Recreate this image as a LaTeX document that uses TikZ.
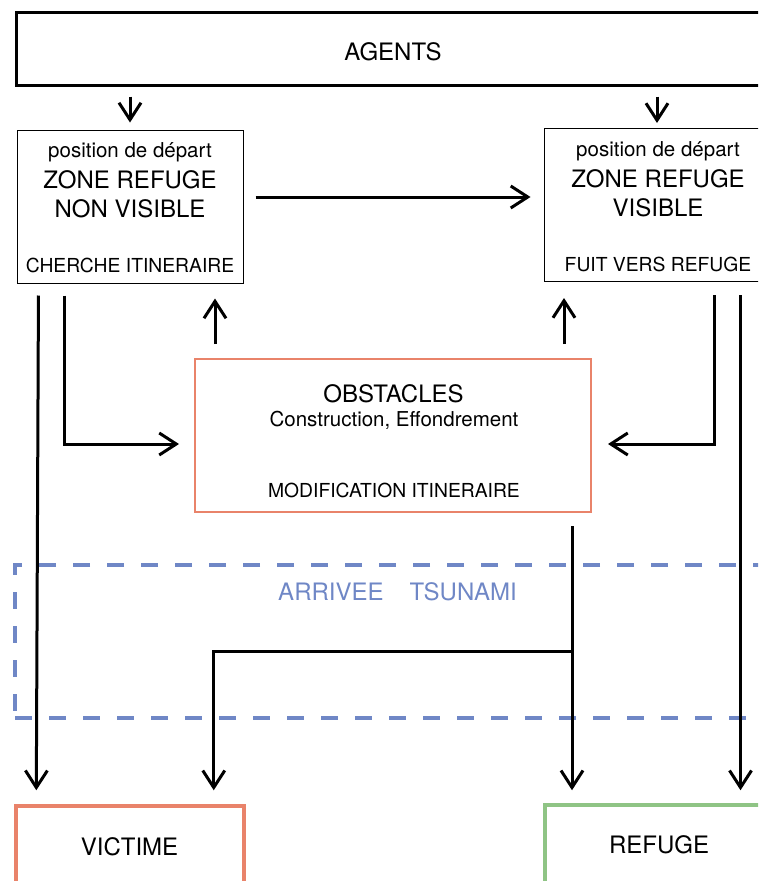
\documentclass[tikz,border=0pt]{standalone}
\usepackage{fontspec}
\setmainfont{TeX Gyre Heros}
\usetikzlibrary{arrows.meta,positioning}
\definecolor{saumon}{HTML}{E9836A}
\definecolor{vert}{HTML}{8FC485}
\definecolor{bleu}{HTML}{6F87C6}

\begin{document}
\begin{tikzpicture}[x=1pt,y=-1pt]
\tikzstyle{every node}+=[inner sep=0pt]
\tikzstyle{etat}=[draw,rectangle,line width=1pt,minimum width=226pt,minimum height=153pt]
\tikzstyle{issue}=[draw,rectangle,line width=3.5pt,minimum width=228pt,minimum height=153pt]
\tikzstyle{titre}=[anchor=base,font=\fontsize{24}{28}\selectfont]
\tikzstyle{depart}=[anchor=base,font=\fontsize{20.5}{24}\selectfont]
\tikzstyle{action}=[anchor=base,font=\fontsize{19.3}{23}\selectfont]
\tikzstyle{fleche}=[line width=3pt,-{Straight Barb[length=17pt,width=22pt]}]
\useasboundingbox (0,0) rectangle (758,881);
\clip (0,0) rectangle (758,881);
\node [draw,rectangle,line width=3pt,minimum width=754pt,minimum height=73pt] (agents) at (393,48.5) {};
\node [titre] (agentstxt) at (393,60) {AGENTS};
\node [etat] (zvn) at (130,206.5) {};
\node [depart] (zvndep) at (130,157) {position de départ};
\node [titre] (zvnzone) at (130,188) {ZONE REFUGE};
\node [titre] (zvnvis) at (130,217) {NON VISIBLE};
\node [action] (zvnact) at (130,272) {CHERCHE ITINERAIRE};
\node [etat] (zv) at (657,205) {};
\node [depart] (zvdep) at (658,156) {position de départ};
\node [titre] (zvzone) at (658,187) {ZONE REFUGE};
\node [titre] (zvvis) at (658,216) {VISIBLE};
\node [action] (zvact) at (658,271) {FUIT VERS REFUGE};
\node [draw=saumon,rectangle,line width=2pt,minimum width=396pt,minimum height=153pt] (obs) at (393,435.5) {};
\node [titre] (obstxt) at (393.5,402) {OBSTACLES};
\node [depart] (obscause) at (394,426) {Construction, Effondrement};
\node [action] (obsact) at (394,497) {MODIFICATION ITINERAIRE};
\node [draw=bleu,rectangle,line width=3.5pt,dash pattern=on 17pt off 17pt,minimum width=760pt,minimum height=153pt] (tsunami) at (395,641.5) {};
\node [titre,text=bleu] (tsunamitxt) at (397.5,600) {ARRIVEE\hspace{26pt}TSUNAMI};
\node [issue,draw=saumon] (vic) at (130,882.5) {};
\node [titre] (victxt) at (129.5,855) {VICTIME};
\node [issue,draw=vert] (ref) at (659,881.5) {};
\node [titre] (reftxt) at (659,853) {REFUGE};
\coordinate (bif) at (572,651);
\draw [fleche,shorten <=10pt,shorten >=7pt] (agents.south -| zvn.north) -- (zvn.north);
\draw [fleche,shorten <=10pt,shorten >=5pt] (agents.south -| zv.north) -- (zv.north);
\draw [fleche,shorten <=12pt,shorten >=13pt] ([yshift=9.5pt]zvn.east) -- ([yshift=9.5pt]zvn.east -| zv.west);
\draw [fleche,shorten <=14pt,shorten >=15pt] ([xshift=21pt]obs.north west) -- ([xshift=21pt]obs.north west |- zvn.south);
\draw [fleche,shorten <=14pt,shorten >=16pt] ([xshift=-28pt]obs.north east) -- ([xshift=-28pt]obs.north east |- zv.south);
\draw [fleche,shorten <=12pt,shorten >=15pt] ([xshift=48pt]zvn.south west) |- ([yshift=-8.5pt]obs.west);
\draw [fleche,shorten <=13pt,shorten >=16pt] ([xshift=-56pt]zv.south east) |- ([yshift=-8.5pt]obs.east);
\draw [fleche,shorten <=12pt,shorten >=14pt] ([xshift=22pt]zvn.south west) -- ([xshift=22pt]vic.north west);
\draw [fleche,shorten <=13pt,shorten >=13pt] ([xshift=-30pt]zv.south east) -- ([xshift=-30pt]zv.south east |- ref.north);
\draw [fleche,shorten <=13pt,shorten >=13pt] (obs.south -| bif) -- (ref.north -| bif);
\draw [fleche,shorten >=14pt] (bif) -| ([xshift=-32pt]vic.north east);
\end{tikzpicture}
\end{document}
